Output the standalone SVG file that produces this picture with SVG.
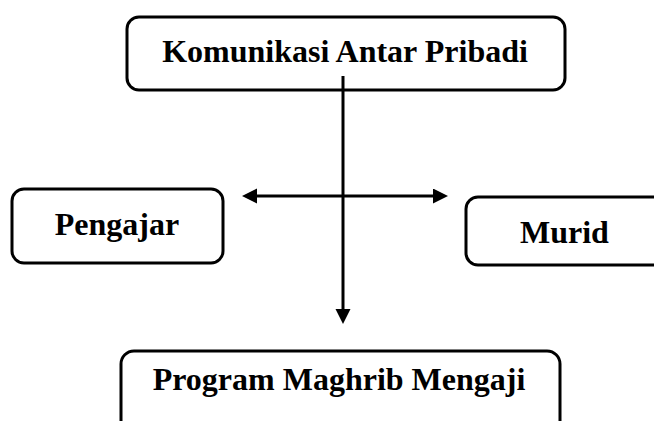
<svg xmlns="http://www.w3.org/2000/svg" width="654" height="421" viewBox="0 0 654 421">
  <style>
    .box { fill: #ffffff; stroke: #000000; stroke-width: 3; }
    .lbl { font-family: "Liberation Serif", "Times New Roman", serif; font-weight: bold; font-size: 32px; fill: #000000; }
    .conn { stroke: #000000; stroke-width: 3; fill: none; }
  </style>
  <defs>
    <marker id="arrow" markerUnits="userSpaceOnUse" markerWidth="16" markerHeight="16" refX="1" refY="7.5" orient="auto-start-reverse">
      <path d="M0,0 L15,7.5 L0,15 z" fill="#000000"/>
    </marker>
  </defs>
  <rect width="654" height="421" fill="#ffffff"/>
  <g id="node-komunikasi">
    <rect class="box" x="127" y="17" width="438" height="73" rx="12" ry="12"/>
    <text class="lbl" x="345" y="62" text-anchor="middle">Komunikasi Antar Pribadi</text>
  </g>
  <g id="node-pengajar">
    <rect class="box" x="12" y="189" width="211" height="74" rx="12" ry="12"/>
    <text class="lbl" x="117" y="235" text-anchor="middle">Pengajar</text>
  </g>
  <g id="node-murid">
    <rect class="box" x="466" y="197" width="210" height="68" rx="12" ry="12"/>
    <text class="lbl" x="520" y="243">Murid</text>
  </g>
  <g id="node-program">
    <rect class="box" x="121" y="351" width="439" height="90" rx="13" ry="13"/>
    <text class="lbl" x="339" y="390" text-anchor="middle">Program Maghrib Mengaji</text>
  </g>
  <g id="connectors">
    <line class="conn" x1="343" y1="76" x2="343" y2="310" marker-end="url(#arrow)"/>
    <line class="conn" x1="256" y1="196" x2="434" y2="196" marker-start="url(#arrow)" marker-end="url(#arrow)"/>
  </g>
</svg>
